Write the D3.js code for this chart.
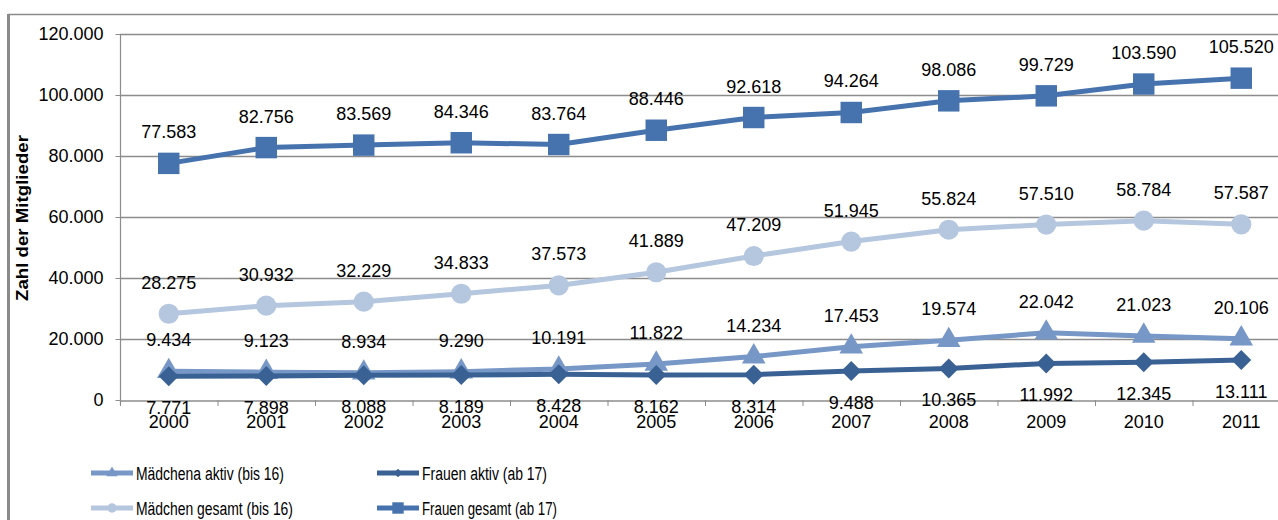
<!DOCTYPE html>
<html>
<head>
<meta charset="utf-8">
<script src="https://cdn.jsdelivr.net/npm/d3@7"></script>
<style>
  html, body { margin: 0; padding: 0; background: #fff; }
  svg { display: block; font-family: "Liberation Sans", Arial, sans-serif; }
</style>
</head>
<body>
<svg id="chart" width="1278" height="520"></svg>
<script>
// Mitgliederentwicklung 2000–2011
const years = ["2000","2001","2002","2003","2004","2005","2006","2007","2008","2009","2010","2011"];
const maedchenAktiv  = [9434, 9123, 8934, 9290, 10191, 11822, 14234, 17453, 19574, 22042, 21023, 20106];
const frauenAktiv    = [7771, 7898, 8088, 8189, 8428, 8162, 8314, 9488, 10365, 11992, 12345, 13111];
const maedchenGesamt = [28275, 30932, 32229, 34833, 37573, 41889, 47209, 51945, 55824, 57510, 58784, 57587];
const frauenGesamt   = [77583, 82756, 83569, 84346, 83764, 88446, 92618, 94264, 98086, 99729, 103590, 105520];
const yTicks = [0, 20000, 40000, 60000, 80000, 100000, 120000];
const seriesNames = ["Mädchena aktiv (bis 16)", "Frauen aktiv (ab 17)", "Mädchen gesamt (bis 16)", "Frauen gesamt (ab 17)"];

const de = d3.formatLocale({ decimal: ",", thousands: ".", grouping: [3], currency: ["", " €"] });
const fmt = de.format(",d");

// rotated-square diamond (equal width and height)
const diamondSym = {
  draw(context, size) {
    const r = Math.sqrt(size / 2);
    context.moveTo(0, -r);
    context.lineTo(r, 0);
    context.lineTo(0, r);
    context.lineTo(-r, 0);
    context.closePath();
  }
};

// series definitions (drawing order: later ones on top)
const series = [
  { name: seriesNames[0], values: maedchenAktiv,  color: "#7797c7", symbol: d3.symbolTriangle, size: 240, lsize: 55,  label: "above", legendLen: 148 },
  { name: seriesNames[1], values: frauenAktiv,    color: "#3a6194", symbol: diamondSym,        size: 200, lsize: 36,  label: "below", legendLen: 125 },
  { name: seriesNames[2], values: maedchenGesamt, color: "#b5c6df", symbol: d3.symbolCircle,   size: 320, lsize: 70,  label: "above", legendLen: 157 },
  { name: seriesNames[3], values: frauenGesamt,   color: "#4673ae", symbol: d3.symbolSquare,   size: 460, lsize: 130, label: "above", legendLen: 135 }
];

const svg = d3.select("#chart");

// outer frame
svg.append("line").attr("x1", 8.5).attr("x2", 8.5).attr("y1", 14).attr("y2", 520)
  .attr("stroke", "#8a8a8a").attr("stroke-width", 3);
svg.append("line").attr("x1", 8).attr("x2", 1278).attr("y1", 14.5).attr("y2", 14.5)
  .attr("stroke", "#8a8a8a").attr("stroke-width", 1.5);

const x = d3.scaleBand().domain(years).range([120, 1290]);
const y = d3.scaleLinear().domain([0, 120000]).range([400, 34]);
const cx = d => x(d) + x.bandwidth() / 2;

// horizontal gridlines
svg.append("g").selectAll("line").data(yTicks.filter(t => t > 0)).join("line")
  .attr("x1", 120).attr("x2", 1290)
  .attr("y1", d => Math.round(y(d)) + 0.5).attr("y2", d => Math.round(y(d)) + 0.5)
  .attr("stroke", "#8c8c8c").attr("stroke-width", 1.6);

// y axis
const yAxis = svg.append("g").attr("transform", "translate(120.5,0)")
  .call(d3.axisLeft(y).tickValues(yTicks).tickFormat(fmt).tickSize(5).tickPadding(12));
yAxis.select(".domain").attr("stroke", "#8c8c8c").attr("stroke-width", 1.2)
  .attr("d", `M0,${y(120000)}V405`);
yAxis.selectAll(".tick line").attr("stroke", "#8c8c8c");
yAxis.selectAll(".tick text").attr("font-size", 18).attr("fill", "#000")
  .attr("font-family", "Liberation Sans, Arial, sans-serif");

// x axis
const xAxis = svg.append("g").attr("transform", "translate(0,400.5)")
  .call(d3.axisBottom(x).tickSize(0).tickPadding(0).tickFormat(d => d));
xAxis.select(".domain").attr("stroke", "#8c8c8c").attr("stroke-width", 1.5);
xAxis.selectAll(".tick text").attr("font-size", 18).attr("fill", "#000")
  .attr("font-family", "Liberation Sans, Arial, sans-serif")
  .attr("dy", null).attr("y", 27.5);
// category boundary ticks
svg.append("g").selectAll("line").data(years.concat(["end"])).join("line")
  .attr("x1", (d, i) => 120 + i * x.step() + 0.5)
  .attr("x2", (d, i) => 120 + i * x.step() + 0.5)
  .attr("y1", 400).attr("y2", 406)
  .attr("stroke", "#8c8c8c").attr("stroke-width", 1);

// axis title
svg.append("text")
  .attr("transform", "translate(28,218) rotate(-90)")
  .attr("text-anchor", "middle")
  .attr("font-size", 17).attr("font-weight", "bold")
  .attr("textLength", 166).attr("lengthAdjust", "spacingAndGlyphs")
  .text("Zahl der Mitglieder");

// lines and markers
const line = d3.line().x((d, i) => cx(years[i])).y(d => y(d));
series.forEach(s => {
  const g = svg.append("g");
  g.append("path").attr("d", line(s.values))
    .attr("fill", "none").attr("stroke", s.color).attr("stroke-width", 5)
    .attr("stroke-linejoin", "round");
  g.selectAll("path.mk").data(s.values).join("path").attr("class", "mk")
    .attr("d", d3.symbol().type(s.symbol).size(s.size))
    .attr("transform", (d, i) => `translate(${cx(years[i])},${y(d)})`)
    .attr("fill", s.color);
});

// data labels
series.forEach(s => {
  svg.append("g").selectAll("text").data(s.values).join("text")
    .attr("x", (d, i) => cx(years[i]))
    .attr("y", d => s.label === "above" ? y(d) - 25 : y(d) + 38)
    .attr("text-anchor", "middle")
    .attr("font-size", 18).attr("fill", "#000")
    .text(d => fmt(d));
});

// legend
const legendPos = [
  { x: 91, y: 473 }, { x: 377, y: 473 }, { x: 91, y: 508 }, { x: 377, y: 508 }
];
series.forEach((s, i) => {
  const p = legendPos[i];
  const g = svg.append("g").attr("transform", `translate(${p.x},${p.y})`);
  g.append("line").attr("x1", 0).attr("x2", 42).attr("y1", 0).attr("y2", 0)
    .attr("stroke", s.color).attr("stroke-width", 5);
  g.append("path").attr("d", d3.symbol().type(s.symbol).size(s.lsize))
    .attr("transform", "translate(21,0)").attr("fill", s.color);
  g.append("text").attr("x", 45).attr("y", 6.5)
    .attr("font-size", 18).attr("fill", "#000")
    .attr("textLength", s.legendLen).attr("lengthAdjust", "spacingAndGlyphs")
    .text(s.name);
});
</script>
</body>
</html>
